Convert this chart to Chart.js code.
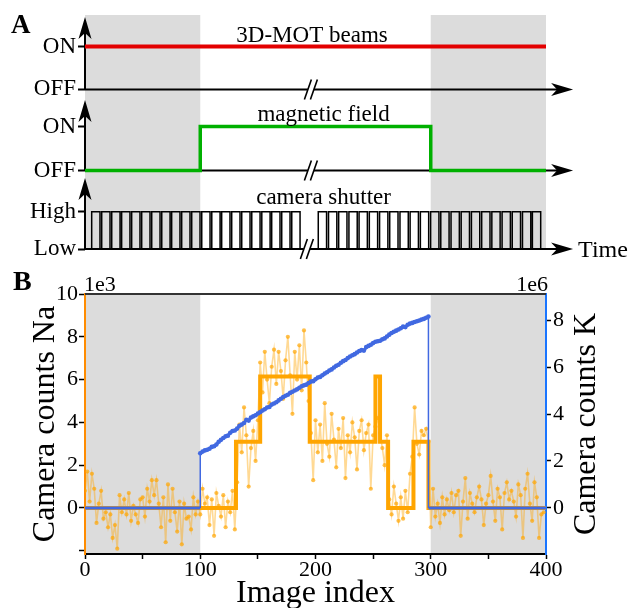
<!DOCTYPE html>
<html>
<head>
<meta charset="utf-8">
<script src="https://cdn.jsdelivr.net/npm/chart.js@4.4.0/dist/chart.umd.min.js"></script>
<style>
  body { margin: 0; background: #fff; }
  #wrap { position: relative; width: 630px; height: 608px; }
  canvas { position: absolute; left: 0; }
</style>
</head>
<body>
<div id="wrap">
  <canvas id="timing" width="630" height="265" style="top:0"></canvas>
  <canvas id="counts" width="630" height="346" style="top:262px"></canvas>
</div>
<script>
const SERIF = '"Liberation Serif", "Times New Roman", serif';

// ---------- panel A : timing sequence (time drawn on the image-index axis) ----------
const motTimes = [0, 400];
const motState = ['ON', 'ON'];
const fieldTimes = [0, 100, 300, 400];
const fieldState = ['OFF', 'ON', 'OFF', 'OFF'];
// shutter opening times, left and right of the axis break
const shutterOpen = [
  5.8, 14.5, 23.2, 31.8, 40.5, 49.2, 57.9, 66.6, 75.2, 83.9, 92.6,
  101.3, 110.0, 118.6, 127.3, 136.0, 144.7, 153.4, 162.0, 170.7, 179.4,
  202.4, 211.3, 220.1, 229.0, 237.8, 246.7, 255.6, 264.4, 273.3, 282.1, 291.0,
  299.9, 308.7, 317.6, 326.4, 335.3, 344.2, 353.0, 361.9, 370.7, 379.6, 388.2
];
const shutterExposure = 7.2;
const darkSpans = [[0, 100], [300, 400]];

// ---------- panel B : camera counts ----------
const imageStep = 2;
// Na counts (x1e3), one value every 2 images, index 0..398
const naCounts = [
  // 0..98
  0.8, 1.7, 0.3, 1.6, 0.9, -0.7, 0.2, 0.8, -0.5, -0.2, -0.9, -0.3, -1.4, -0.8, -1.9, 0.6, -0.2, 0.4, -0.3, 0.7,
  -0.6, 0.1, -0.3, -0.7, 0.4, 0.5, -0.4, 0.9, 0.3, 1.3, 0.6, 1.3, 0.2, -0.9, 0.5, -1.6, 1.1, -0.6, 0.9, -0.2,
  -1.1, 0.3, -1.7, 0.2, -0.5, -0.4, -1.0, 0.5, -0.3, 0.3,
  // 100..130
  -0.3, 0.9, 0.2, 0.5, -0.8, 0.4, -1.3, 0.7, 0.1, -0.4, 0.6, -0.9, 0.3, -0.2, 0.8, -1.0,
  // 132..150
  1.2, 3.9, 2.6, 4.7, 3.4, 1.0, 2.8, 3.6, 2.2, 4.1,
  // 152..194
  6.8, 5.4, 7.3, 6.0, 4.9, 6.6, 7.4, 5.8, 7.3, 6.4, 5.1, 6.9, 8.0, 6.2, 4.4, 7.3, 6.0, 7.6, 5.5, 8.3, 6.8, 5.0,
  // 196..250
  3.5, 1.3, 4.1, 2.6, 3.9, 2.2, 4.9, 3.0, 2.4, 4.4, 3.2, 1.9, 3.7, 2.8, 4.2, 1.4, 3.4, 2.6, 4.0, 3.3,
  1.8, 3.6, 4.1, 2.7, 3.5, 3.9, 0.9, 3.4,
  // 252..262
  3.8, 4.2, 3.5, 2.8, 2.0, 3.4,
  // 264..284
  0.4, -0.3, 1.0, 0.2, -0.6, 0.5, -0.5, 0.8, -0.2, 1.6, 2.4,
  // 286..298
  4.7, 3.0, 2.5, 3.6, 3.4, 3.7, 3.1,
  // 300..398
  -0.9, 0.9, -0.4, 0.2, -0.7, 0.5, -0.3, 0.4, -0.1, 0.7, -0.2, 0.6, 0.8, -1.3, 0.3, 1.4, -0.5, 0.7, 0.2, -0.2,
  0.5, 1.0, 0.4, -0.8, 0.2, 0.6, 1.5, 0.3, -0.6, 0.9, 0.5, -1.0, 0.7, 1.2, 0.4, 0.8, 0.3, -0.4, 1.1, 0.6,
  -1.4, 0.9, 1.6, 0.2, -0.6, 1.2, 0.5, -1.4, -0.3, -0.2
];
// fitted Na level (x1e3), stepped
const naLevelIndex = [0, 131, 152, 195, 252, 256, 263, 285, 298, 400];
const naLevel = [0, 3.1, 6.15, 3.1, 6.15, 3.1, 0, 3.1, 0, 0];
// K counts (x1e6) during loading, index 100..298
const kStart = 100;
const kEnd = 298;
const kCounts = [
  2.33, 2.40, 2.45, 2.48, 2.52, 2.60, 2.63, 2.70, 2.82, 2.90,
  2.98, 3.05, 3.08, 3.20, 3.28, 3.30, 3.38, 3.50, 3.55, 3.62,
  3.75, 3.72, 3.85, 3.90, 3.95, 4.02, 4.08, 4.15, 4.20, 4.28,
  4.30, 4.40, 4.45, 4.50, 4.58, 4.65, 4.72, 4.78, 4.82, 4.90,
  4.95, 5.00, 5.05, 5.12, 5.18, 5.22, 5.25, 5.32, 5.38, 5.40,
  5.48, 5.55, 5.58, 5.65, 5.72, 5.78, 5.85, 5.90, 5.98, 6.05,
  6.10, 6.18, 6.25, 6.30, 6.38, 6.45, 6.50, 6.55, 6.62, 6.68,
  6.72, 6.70, 6.85, 6.90, 6.95, 7.02, 7.08, 7.10, 7.12, 7.18,
  7.22, 7.30, 7.38, 7.45, 7.50, 7.55, 7.60, 7.65, 7.72, 7.70,
  7.80, 7.85, 7.88, 7.92, 7.95, 7.98, 8.02, 8.05, 8.10, 8.15
];
const xTickValues = [0, 50, 100, 150, 200, 250, 300, 350, 400];
const naTickValues = [-2, 0, 2, 4, 6, 8, 10];
const kTickValues = [0, 2, 4, 6, 8];

// ---------------- panel A ----------------
const rowLevels = {
  mot: { OFF: 3.99, ON: 5.06 },
  field: { OFF: 1.96, ON: 3.06 },
  shutter: { Low: 0, High: 0.93 }
};
const levelTicks = [
  [rowLevels.shutter.Low, 'Low'], [rowLevels.shutter.High, 'High'],
  [rowLevels.field.OFF, 'OFF'], [rowLevels.field.ON, 'ON'],
  [rowLevels.mot.OFF, 'OFF'], [rowLevels.mot.ON, 'ON']
];
const rows = [
  { base: rowLevels.mot.OFF, tip: 5.8, brk: 196, name: '3D-MOT beams', lx: 197, ly: 5.18 },
  { base: rowLevels.field.OFF, tip: 3.725, brk: 196, name: 'magnetic field', lx: 207, ly: 3.21 },
  { base: rowLevels.shutter.Low, tip: 1.775, brk: 192.5, name: 'camera shutter', lx: 207, ly: 1.13 }
];
const timeArrowEnd = 423.5;

const motData = motTimes.map((t, i) => ({ x: t, y: rowLevels.mot[motState[i]] }));
const fieldData = fieldTimes.map((t, i) => ({ x: t, y: rowLevels.field[fieldState[i]] }));
const shutterData = [{ x: 0, y: rowLevels.shutter.Low }];
shutterOpen.forEach(t => {
  shutterData.push({ x: t, y: rowLevels.shutter.High });
  shutterData.push({ x: t + shutterExposure, y: rowLevels.shutter.Low });
});

function arrowHead(ctx, tx, ty, dir) {
  const L = 22, W = 6.5, N = 6;
  ctx.beginPath();
  if (dir === 'right') {
    ctx.moveTo(tx, ty); ctx.lineTo(tx - L, ty - W); ctx.lineTo(tx - L + N, ty); ctx.lineTo(tx - L, ty + W);
  } else {
    ctx.moveTo(tx, ty); ctx.lineTo(tx - W, ty + L); ctx.lineTo(tx, ty + L - N); ctx.lineTo(tx + W, ty + L);
  }
  ctx.closePath();
  ctx.fill();
}

function breakMark(ctx, cx, cy) {
  ctx.fillStyle = '#fff';
  ctx.fillRect(cx - 3, cy - 2, 6, 4);
  ctx.strokeStyle = '#000';
  ctx.lineWidth = 1.6;
  for (const off of [-3, 3]) {
    ctx.beginPath();
    ctx.moveTo(cx + off - 3.5, cy + 10);
    ctx.lineTo(cx + off + 3.5, cy - 10);
    ctx.stroke();
  }
}

const timingPlugin = {
  id: 'timing',
  beforeDraw(chart) {
    const { ctx, chartArea: a, scales: { x } } = chart;
    ctx.save();
    ctx.fillStyle = '#dcdcdc';
    darkSpans.forEach(([s, e]) => {
      const x0 = x.getPixelForValue(s), x1 = x.getPixelForValue(e);
      ctx.fillRect(x0, a.top, x1 - x0, a.bottom - a.top);
    });
    ctx.restore();
  },
  beforeDatasetsDraw(chart) {
    const { ctx, scales: { x, y } } = chart;
    ctx.save();
    ctx.strokeStyle = '#000';
    ctx.lineWidth = 2;
    rows.forEach(r => {
      const y0 = y.getPixelForValue(r.base);
      ctx.beginPath();
      ctx.moveTo(x.getPixelForValue(0), y0);
      ctx.lineTo(x.getPixelForValue(timeArrowEnd) - 10, y0);
      ctx.moveTo(x.getPixelForValue(0), y0);
      ctx.lineTo(x.getPixelForValue(0), y.getPixelForValue(r.tip) + 10);
      ctx.stroke();
    });
    ctx.restore();
  },
  afterDatasetsDraw(chart) {
    const { ctx, scales: { x, y } } = chart;
    ctx.save();
    ctx.fillStyle = '#000';
    rows.forEach(r => {
      const y0 = y.getPixelForValue(r.base);
      breakMark(ctx, x.getPixelForValue(r.brk), y0);
      ctx.fillStyle = '#000';
      arrowHead(ctx, x.getPixelForValue(timeArrowEnd), y0, 'right');
      arrowHead(ctx, x.getPixelForValue(0), y.getPixelForValue(r.tip), 'up');
      ctx.font = '23px ' + SERIF;
      ctx.textAlign = 'center';
      ctx.textBaseline = 'alphabetic';
      ctx.fillText(r.name, x.getPixelForValue(r.lx), y.getPixelForValue(r.ly));
    });
    ctx.font = '24px ' + SERIF;
    ctx.textAlign = 'left';
    ctx.fillText('Time', x.getPixelForValue(timeArrowEnd) + 5, y.getPixelForValue(0) + 8);
    ctx.font = 'bold 27px ' + SERIF;
    ctx.fillText('A', 11, 33);
    ctx.restore();
  }
};

new Chart(document.getElementById('timing'), {
  type: 'line',
  data: {
    datasets: [
      { data: motData, borderColor: '#e30000', borderWidth: 4, pointRadius: 0 },
      { data: fieldData, borderColor: '#00b000', borderWidth: 3.5, pointRadius: 0, stepped: 'before' },
      { data: shutterData, borderColor: '#000', borderWidth: 1.5, pointRadius: 0, stepped: 'before', clip: false }
    ]
  },
  options: {
    animation: false, responsive: false, events: [],
    layout: { padding: { top: 15, right: 84, bottom: 16, left: 0 } },
    plugins: { legend: { display: false }, tooltip: { enabled: false } },
    scales: {
      x: { type: 'linear', min: 0, max: 400, display: false },
      y: {
        min: 0, max: 5.85,
        afterFit: s => { s.width = 85; },
        afterBuildTicks: s => { s.ticks = levelTicks.map(t => ({ value: t[0] })); },
        ticks: {
          autoSkip: false, padding: 2, color: '#000',
          font: { family: SERIF, size: 23, lineHeight: 1 },
          callback: (v, i) => levelTicks[i][1]
        },
        grid: { drawOnChartArea: false, tickLength: 7, tickWidth: 2, tickColor: '#000' },
        border: { display: false }
      }
    }
  },
  plugins: [timingPlugin]
});

// ---------------- panel B ----------------
const naData = naCounts.map((v, i) => ({ x: i * imageStep, y: v }));
const naLevelData = naLevelIndex.map((t, i) => ({ x: t, y: naLevel[i] }));
const kData = [{ x: 0, y: 0 }, { x: kStart, y: 0 }]
  .concat(kCounts.map((v, i) => ({ x: kStart + i * imageStep, y: v })))
  .concat([{ x: kEnd, y: 0 }, { x: 400, y: 0 }]);

const countsPlugin = {
  id: 'counts',
  beforeDraw(chart) {
    const { ctx, chartArea: a, scales: { x } } = chart;
    ctx.save();
    ctx.fillStyle = '#dcdcdc';
    darkSpans.forEach(([s, e]) => {
      const x0 = x.getPixelForValue(s), x1 = x.getPixelForValue(e);
      ctx.fillRect(x0, a.top, x1 - x0, a.bottom - a.top);
    });
    ctx.restore();
  },
  afterDraw(chart) {
    const { ctx, chartArea: a } = chart;
    ctx.save();
    ctx.strokeStyle = '#333';
    ctx.lineWidth = 2;
    ctx.beginPath();
    ctx.moveTo(a.left, a.top);
    ctx.lineTo(a.right, a.top);
    ctx.stroke();
    ctx.fillStyle = '#000';
    ctx.textBaseline = 'alphabetic';
    ctx.font = '22px ' + SERIF;
    ctx.textAlign = 'left';
    ctx.fillText('1e3', a.left - 1, a.top - 3);
    ctx.textAlign = 'right';
    ctx.fillText('1e6', a.right + 2, a.top - 3);
    ctx.font = 'bold 28px ' + SERIF;
    ctx.textAlign = 'left';
    ctx.fillText('B', 13, 28);
    ctx.font = '32px ' + SERIF;
    ctx.textAlign = 'center';
    const cy = (a.top + a.bottom) / 2;
    ctx.fillText('Image index', (a.left + a.right) / 2, 340);
    ctx.save();
    ctx.translate(42.5, cy);
    ctx.rotate(-Math.PI / 2);
    ctx.fillText('Camera counts Na', 0, 11);
    ctx.restore();
    ctx.save();
    ctx.translate(584, cy);
    ctx.rotate(-Math.PI / 2);
    ctx.fillText('Camera counts K', 0, 11);
    ctx.restore();
    ctx.restore();
  }
};

const tickFont = { family: SERIF, size: 22, lineHeight: 1 };

new Chart(document.getElementById('counts'), {
  type: 'line',
  data: {
    datasets: [
      {
        data: kData, yAxisID: 'yK', order: 0,
        borderColor: '#4169e1', backgroundColor: '#4169e1',
        pointRadius: c => (c.parsed && c.parsed.y !== 0 ? 2.3 : 0), pointBorderWidth: 0,
        borderWidth: 3,
        segment: { borderWidth: c => (c.p0.parsed.x === c.p1.parsed.x ? 1.5 : 3) }
      },
      {
        data: naLevelData, yAxisID: 'yNa', order: 1, stepped: 'before',
        borderColor: '#ffa500', borderWidth: 4, pointRadius: 0
      },
      {
        data: naData, yAxisID: 'yNa', order: 2,
        borderColor: 'rgba(255,165,0,0.42)', borderWidth: 1.6,
        pointRadius: 2.1, pointBorderWidth: 0, backgroundColor: 'rgba(255,165,0,0.7)'
      }
    ]
  },
  options: {
    animation: false, responsive: false, events: [],
    layout: { padding: { top: 32, right: 0, bottom: 0, left: 0 } },
    plugins: { legend: { display: false }, tooltip: { enabled: false } },
    scales: {
      x: {
        type: 'linear', min: 0, max: 400,
        afterFit: s => { s.height = 54; },
        afterBuildTicks: s => { s.ticks = xTickValues.map(v => ({ value: v })); },
        ticks: { autoSkip: false, maxRotation: 0, padding: 0, color: '#000', font: tickFont,
                 callback: v => (v % 100 === 0 ? v : '') },
        grid: { drawOnChartArea: false, tickLength: 5, tickWidth: 1.5, tickColor: '#000' },
        border: { color: '#000', width: 2 }
      },
      yNa: {
        position: 'left', min: -2.15, max: 10,
        afterFit: s => { s.width = 85; },
        afterBuildTicks: s => { s.ticks = naTickValues.map(v => ({ value: v })); },
        ticks: { autoSkip: false, padding: 1, color: '#000', font: tickFont,
                 callback: v => (v < 0 ? '' : v) },
        grid: { drawOnChartArea: false, tickLength: 6, tickWidth: 1.5, tickColor: '#000' },
        border: { color: '#ff8c00', width: 2 }
      },
      yK: {
        position: 'right', min: -1.96, max: 9.11,
        afterFit: s => { s.width = 84; },
        afterBuildTicks: s => { s.ticks = kTickValues.map(v => ({ value: v })); },
        ticks: { autoSkip: false, padding: 2, color: '#000', font: tickFont },
        grid: { drawOnChartArea: false, tickLength: 5, tickWidth: 1.5, tickColor: '#000' },
        border: { color: '#1a75ff', width: 2 }
      }
    }
  },
  plugins: [countsPlugin]
});
</script>
</body>
</html>
